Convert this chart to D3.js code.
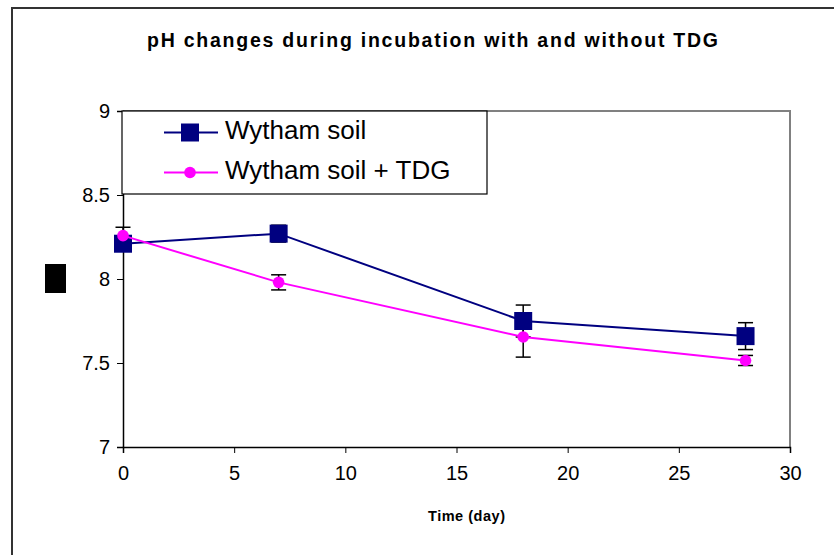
<!DOCTYPE html>
<html>
<head>
<meta charset="utf-8">
<script src="https://cdn.jsdelivr.net/npm/d3@7"></script>
<style>
  html, body { margin: 0; padding: 0; background: #fff; }
  svg { display: block; font-family: "Liberation Sans", Arial, sans-serif; }
</style>
</head>
<body>
<svg id="chart" width="834" height="555"></svg>
<script>
// 데이터
const days = [0, 7, 18, 28];
const soil = [8.21, 8.27, 7.75, 7.66];
const soilErr = [0.035, 0.05, 0.095, 0.08];
const soilTdg = [8.258, 7.98, 7.655, 7.515];
const soilTdgErr = [0.05, 0.045, 0.12, 0.03];
const xTicks = [0, 5, 10, 15, 20, 25, 30];
const yTicks = [7, 7.5, 8, 8.5, 9];

const svg = d3.select('#chart');
const W = 834, H = 555;

const x = d3.scaleLinear().domain([0, 30]).range([123, 790]);
const y = d3.scaleLinear().domain([7, 9]).range([447, 111]);

// 바깥 테두리
svg.append('path')
  .attr('d', `M12,${H} L12,8 L${W},8`)
  .attr('fill', 'none').attr('stroke', '#333').attr('stroke-width', 2);

// 플롯 영역 테두리 (위, 오른쪽)
svg.append('path')
  .attr('d', `M${x(0)},${y(9)} L${x(30)},${y(9)} L${x(30)},${y(7)}`)
  .attr('fill', 'none').attr('stroke', '#808080').attr('stroke-width', 2);

// 제목
svg.append('text')
  .attr('x', 147).attr('y', 47)
  .attr('font-size', '19.5px').attr('font-weight', 'bold')
  .attr('textLength', 571).attr('lengthAdjust', 'spacing')
  .text('pH changes during incubation with and without TDG');

// 축
const yAxis = svg.append('g')
  .attr('transform', `translate(${x(0)},0)`)
  .call(d3.axisLeft(y).tickValues(yTicks).tickSize(6).tickPadding(7).tickFormat(d3.format('')));
const xAxis = svg.append('g')
  .attr('transform', `translate(0,${y(7)})`)
  .call(d3.axisBottom(x).tickValues(xTicks).tickSize(6).tickPadding(13));
[xAxis, yAxis].forEach(a => {
  a.select('.domain').attr('stroke', '#000').attr('stroke-width', 1.5);
  a.selectAll('.tick line').attr('stroke', '#000');
  a.selectAll('.tick text').attr('font-size', '20px').attr('fill', '#000')
    .attr('font-family', '"Liberation Sans", Arial, sans-serif');
});

// x축 제목
svg.append('text')
  .attr('x', 428).attr('y', 521)
  .attr('font-size', '14.5px').attr('font-weight', 'bold')
  .attr('textLength', 77).attr('lengthAdjust', 'spacing')
  .text('Time (day)');

// y축 제목 (깨진 글리프 블록)
svg.append('rect')
  .attr('x', 45).attr('y', 264).attr('width', 21).attr('height', 29)
  .attr('fill', '#000');

const series = [
  { name: 'Wytham soil', vals: soil, err: soilErr, color: '#000080', marker: 'square' },
  { name: 'Wytham soil + TDG', vals: soilTdg, err: soilTdgErr, color: '#FF00FF', marker: 'circle' },
];

// 오차 막대
series.forEach(s => {
  const g = svg.append('g').attr('stroke', '#000').attr('stroke-width', 1.5);
  days.forEach((d, i) => {
    const cx = x(d), top = y(s.vals[i] + s.err[i]), bot = y(s.vals[i] - s.err[i]);
    g.append('line').attr('x1', cx).attr('x2', cx).attr('y1', top).attr('y2', bot);
    g.append('line').attr('x1', cx - 7.5).attr('x2', cx + 7.5).attr('y1', top).attr('y2', top);
    g.append('line').attr('x1', cx - 7.5).attr('x2', cx + 7.5).attr('y1', bot).attr('y2', bot);
  });
});

const line = d3.line().x(d => x(d[0])).y(d => y(d[1]));

function drawMarker(g, type, color, cx, cy) {
  if (type === 'square') {
    g.append('rect').attr('x', cx - 9).attr('y', cy - 9).attr('width', 18).attr('height', 18)
      .attr('fill', color);
  } else {
    g.append('circle').attr('cx', cx).attr('cy', cy).attr('r', 5.8).attr('fill', color);
  }
}

series.forEach(s => {
  svg.append('path')
    .datum(days.map((d, i) => [d, s.vals[i]]))
    .attr('d', line)
    .attr('fill', 'none').attr('stroke', s.color).attr('stroke-width', 2);
  const g = svg.append('g');
  days.forEach((d, i) => drawMarker(g, s.marker, s.color, x(d), y(s.vals[i])));
});

// 범례
const leg = svg.append('g');
leg.append('rect')
  .attr('x', 122).attr('y', 111).attr('width', 365).attr('height', 83)
  .attr('fill', '#fff').attr('stroke', '#000').attr('stroke-width', 1.2);
series.forEach((s, i) => {
  const ly = 132.5 + i * 40;
  leg.append('line').attr('x1', 164).attr('x2', 218).attr('y1', ly).attr('y2', ly)
    .attr('stroke', s.color).attr('stroke-width', 2);
  drawMarker(leg, s.marker, s.color, 190, ly);
  leg.append('text')
    .attr('x', 225).attr('y', ly + 6)
    .attr('font-size', '26px')
    .text(s.name);
});
</script>
</body>
</html>
